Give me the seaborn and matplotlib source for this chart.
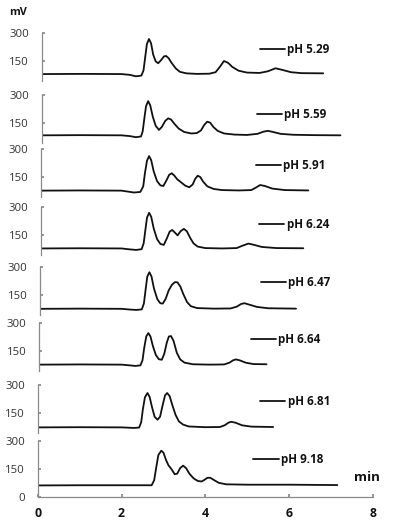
import matplotlib
matplotlib.use("Agg")
import matplotlib.pyplot as plt
import seaborn as sns
import pandas as pd

# pH of each run, top to bottom
ph_labels = ["pH 5.29", "pH 5.59", "pH 5.91", "pH 6.24", "pH 6.47", "pH 6.64", "pH 6.81", "pH 9.18"]

# chromatograms (time in min, signal in mV)
t_529 = [0, 1.0, 1.9, 2.1, 2.25, 2.38, 2.43, 2.47, 2.51, 2.56, 2.61, 2.66, 2.72, 2.78, 2.85, 2.92, 2.97, 3.03,
         3.1, 3.2, 3.3, 3.45, 3.7, 4.0, 4.15, 4.25, 4.35, 4.45, 4.55, 4.7, 4.9, 5.2, 5.4, 5.58, 5.75, 5.95, 6.2, 6.72]
mv_529 = [80, 81, 80, 76, 68, 72, 100, 170, 240, 268, 245, 185, 148, 138, 155, 175, 177, 165,
          140, 110, 92, 84, 81, 82, 90, 118, 150, 140, 118, 98, 88, 86, 95, 111, 102, 90, 85, 84]

t_559 = [0, 0.9, 1.9, 2.1, 2.25, 2.37, 2.41, 2.45, 2.49, 2.54, 2.59, 2.65, 2.72, 2.8, 2.87, 2.95, 3.02, 3.09,
         3.17, 3.27, 3.4, 3.57, 3.7, 3.8, 3.88, 3.95, 4.02, 4.1, 4.2, 4.35, 4.6, 4.9, 5.15, 5.3, 5.4, 5.52,
         5.7, 6.0, 6.5, 7.13]
mv_559 = [84, 85, 84, 80, 74, 78, 105, 175, 240, 267, 245, 185, 135, 113, 130, 162, 175, 168,
          145, 120, 102, 94, 96, 110, 140, 157, 152, 128, 108, 94, 88, 86, 92, 104, 108, 102,
          92, 87, 85, 84]

t_591 = [0, 0.92, 1.92, 2.07, 2.22, 2.37, 2.44, 2.48, 2.53, 2.58, 2.63, 2.69, 2.77, 2.85, 2.92, 2.99, 3.06,
         3.12, 3.18, 3.25, 3.34, 3.44, 3.54, 3.62, 3.68, 3.74, 3.8, 3.87, 3.97, 4.12, 4.32, 4.72, 5.02, 5.12,
         5.23, 5.34, 5.52, 5.82, 6.38]
mv_591 = [77, 78, 77, 72, 67, 70, 100, 170, 238, 262, 240, 180, 128, 105, 102, 130, 162,
          170, 158, 138, 122, 104, 95, 110, 140, 157, 150, 125, 100, 86, 80, 78, 80, 92,
          107, 102, 88, 80, 78]

t_624 = [0, 0.92, 1.92, 2.12, 2.27, 2.4, 2.45, 2.49, 2.53, 2.58, 2.63, 2.69, 2.77, 2.85, 2.93, 3.0, 3.07,
         3.13, 3.2, 3.26, 3.33, 3.41, 3.48, 3.56, 3.64, 3.74, 3.92, 4.32, 4.67, 4.8, 4.95, 5.07, 5.27, 5.62, 6.26]
mv_624 = [78, 79, 78, 73, 70, 74, 105, 175, 243, 269, 248, 185, 128, 102, 97, 130, 168,
          177, 162, 148, 170, 183, 170, 135, 105, 88, 80, 78, 80, 92, 104, 98, 86, 80, 79]

t_647 = [0, 0.95, 1.95, 2.15, 2.3, 2.43, 2.48, 2.52, 2.56, 2.61, 2.66, 2.72, 2.8, 2.87, 2.93, 3.0, 3.07,
         3.15, 3.22, 3.28, 3.35, 3.42, 3.51, 3.6, 3.75, 4.15, 4.55, 4.7, 4.8, 4.88, 5.0, 5.18, 5.45, 6.11]
mv_647 = [76, 77, 76, 72, 70, 73, 105, 178, 248, 272, 250, 185, 128, 106, 104, 130, 174,
          205, 219, 218, 195, 155, 112, 90, 80, 77, 78, 88, 102, 106, 98, 86, 79, 77]

t_664 = [0, 0.97, 1.97, 2.17, 2.3, 2.42, 2.47, 2.51, 2.56, 2.61, 2.66, 2.72, 2.79, 2.86, 2.93, 2.99, 3.05,
         3.1, 3.15, 3.21, 3.29, 3.37, 3.47, 3.67, 4.07, 4.42, 4.55, 4.63, 4.7, 4.79, 4.94, 5.12, 5.43]
mv_664 = [77, 78, 77, 73, 70, 73, 100, 165, 228, 246, 228, 175, 128, 106, 103, 135, 195,
          228, 230, 205, 140, 105, 88, 79, 77, 78, 88, 100, 105, 100, 87, 80, 79]

t_681 = [0, 1.0, 2.0, 2.3, 2.42, 2.47, 2.51, 2.56, 2.62, 2.67, 2.73, 2.79, 2.86, 2.92, 2.98, 3.04, 3.09,
         3.15, 3.21, 3.29, 3.37, 3.47, 3.6, 4.0, 4.35, 4.47, 4.55, 4.62, 4.72, 4.88, 5.1, 5.62]
mv_681 = [73, 74, 73, 70, 72, 100, 170, 235, 257, 237, 180, 130, 114, 130, 190, 245, 257,
          240, 195, 140, 105, 88, 78, 74, 75, 85, 98, 103, 98, 84, 77, 75]

t_918 = [0, 1.0, 2.0, 2.5, 2.72, 2.78, 2.83, 2.88, 2.95, 3.0, 3.06, 3.12, 3.19, 3.27, 3.33, 3.4, 3.47,
         3.54, 3.62, 3.72, 3.82, 3.91, 3.98, 4.05, 4.12, 4.2, 4.32, 4.5, 5.0, 6.0, 7.15]
mv_918 = [62, 63, 63, 63, 63, 90, 160, 225, 248, 238, 200, 170, 150, 122, 125, 155, 168,
          155, 125, 100, 86, 83, 92, 103, 103, 92, 76, 68, 66, 66, 64]

runs = [(t_529, mv_529), (t_559, mv_559), (t_591, mv_591), (t_624, mv_624),
        (t_647, mv_647), (t_664, mv_664), (t_681, mv_681), (t_918, mv_918)]

sns.set_theme(style="white")
plt.rcParams["font.family"] = ["Open Sans", "DejaVu Sans"]

W, H = 396, 524
fig = plt.figure(figsize=(W / 100, H / 100), dpi=100)

px_per_min = 41.9
px_per_mv = 0.1867
# left edge and the 300 mV row of every panel, in pixels
lefts = [41.7, 41.7, 41, 41, 40, 39, 37.7, 37.7]
tops = [33, 95, 149, 207, 267, 323, 385, 441]
# where each pH label starts (min, mV)
label_at = [(5.21, 209), (5.13, 194), (5.13, 209), (5.21, 207),
            (5.27, 215), (5.05, 211), (5.31, 209), (5.15, 200)]

spine_col = "#8a8a8a"
n = len(runs)
for i, ((t, mv), lab) in enumerate(zip(runs, ph_labels)):
    last = i == n - 1
    ymin = 0 if last else 45
    h = (300 - ymin) * px_per_mv
    ax = fig.add_axes([lefts[i] / W, 1 - (tops[i] + h) / H, 8 * px_per_min / W, h / H])
    ax.patch.set_alpha(0)
    df = pd.DataFrame({"time": t, "mV": mv})
    sns.lineplot(data=df, x="time", y="mV", ax=ax, color="#111111", linewidth=1.3,
                 estimator=None, label=lab)
    ax.set_xlim(0, 8)
    ax.set_ylim(ymin, 300)
    ax.set_xlabel("")
    ax.set_ylabel("")
    ax.set_yticks([0, 150, 300] if last else [150, 300])
    ax.tick_params(axis="y", direction="in", length=2, color=spine_col, pad=9,
                   labelsize=8.2, labelcolor="#333333", left=True)
    for s in ["top", "right"]:
        ax.spines[s].set_visible(False)
    ax.spines["left"].set_color(spine_col)
    ax.spines["left"].set_linewidth(0.9)
    if last:
        ax.spines["bottom"].set_color(spine_col)
        ax.spines["bottom"].set_linewidth(0.9)
        ax.set_xticks([0, 2, 4, 6, 8])
        ax.tick_params(axis="x", direction="in", length=2.5, color=spine_col, pad=7,
                       labelsize=8.8, labelcolor="#111111", bottom=True)
        for tl in ax.get_xticklabels():
            tl.set_fontweight("bold")
        ax.text(7.85, 103, "min", fontsize=9.5, fontweight="bold", color="#111111",
                ha="center", va="center", clip_on=False)
    else:
        ax.spines["bottom"].set_visible(False)
        ax.set_xticks([])
    lx, ly = label_at[i]
    ax.legend(loc="center left", bbox_to_anchor=(lx, ly), bbox_transform=ax.transData,
              frameon=False, prop={"size": 8.4, "weight": "bold"}, handlelength=2.15,
              handletextpad=0.2, borderpad=0, borderaxespad=0, labelcolor="#111111")

fig.text(18 / W, 1 - 12.7 / H, "mV", fontsize=7.8, fontweight="bold", color="#111111",
         ha="center", va="center")

fig.savefig("out.png", dpi=100)
